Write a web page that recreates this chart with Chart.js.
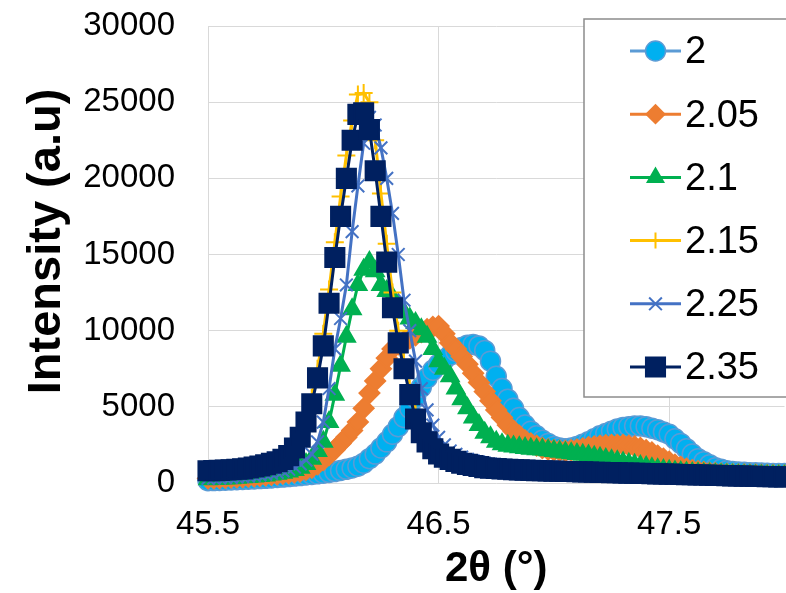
<!DOCTYPE html>
<html>
<head>
<meta charset="utf-8">
<script src="https://cdn.jsdelivr.net/npm/chart.js@4.4.0/dist/chart.umd.min.js"></script>
<style>
html, body { margin: 0; padding: 0; overflow: hidden; background: #fff; }
#wrap { width: 786px; height: 593px; overflow: hidden; }
canvas { display: block; }
</style>
</head>
<body>
<div id="wrap"><canvas id="xrdChart" width="800" height="600"></canvas></div>
<script>
// 2theta (deg) positions of the scan
const twoTheta = [
    45.500, 45.525, 45.550, 45.575, 45.600, 45.625, 45.650, 45.675, 45.700, 45.725,
    45.750, 45.775, 45.800, 45.825, 45.850, 45.875, 45.900, 45.925, 45.950, 45.975,
    46.000, 46.025, 46.050, 46.075, 46.100, 46.125, 46.150, 46.175, 46.200, 46.225,
    46.250, 46.275, 46.300, 46.325, 46.350, 46.375, 46.400, 46.425, 46.450, 46.475,
    46.500, 46.525, 46.550, 46.575, 46.600, 46.625, 46.650, 46.675, 46.700, 46.725,
    46.750, 46.775, 46.800, 46.825, 46.850, 46.875, 46.900, 46.925, 46.950, 46.975,
    47.000, 47.025, 47.050, 47.075, 47.100, 47.125, 47.150, 47.175, 47.200, 47.225,
    47.250, 47.275, 47.300, 47.325, 47.350, 47.375, 47.400, 47.425, 47.450, 47.475,
    47.500, 47.525, 47.550, 47.575, 47.600, 47.625, 47.650, 47.675, 47.700, 47.725,
    47.750, 47.775, 47.800, 47.825, 47.850, 47.875, 47.900, 47.925, 47.950, 47.975,
    48.000];

const seriesNames = ["2", "2.05", "2.1", "2.15", "2.25", "2.35"];

// intensities (a.u)
const int2 = [
    150, 160, 170, 185, 200, 215, 230, 250, 270, 290,
    310, 335, 360, 390, 420, 455, 490, 525, 560, 600,
    640, 690, 750, 820, 900, 990, 1100, 1300, 1600, 1900,
    2300, 2700, 3200, 3700, 4300, 4900, 5600, 6300, 6900, 7400,
    7800, 8100, 8400, 8650, 8900, 9050, 9100, 9000, 8700, 8000,
    7000, 6200, 5500, 4900, 4300, 3800, 3400, 3100, 2800, 2600,
    2400, 2300, 2250, 2300, 2400, 2550, 2700, 2900, 3100, 3250,
    3400, 3550, 3650, 3700, 3750, 3750, 3700, 3600, 3500, 3350,
    3200, 2900, 2600, 2250, 1900, 1600, 1400, 1200, 1000, 900,
    800, 760, 720, 700, 680, 665, 650, 640, 630, 625,
    620];
const int205 = [
    300, 310, 320, 335, 350, 370, 390, 415, 440, 470,
    500, 535, 570, 610, 650, 700, 760, 860, 1000, 1230,
    1500, 1830, 2200, 2600, 3000, 3450, 4000, 4900, 5900, 6700,
    7500, 8200, 8800, 9100, 9300, 9500, 9700, 9900, 10100, 10250,
    10300, 9800, 9200, 8800, 8300, 7800, 7200, 6600, 6000, 5400,
    4800, 4300, 3800, 3400, 3100, 2800, 2600, 2450, 2300, 2200,
    2150, 2120, 2100, 2150, 2200, 2270, 2350, 2400, 2450, 2480,
    2500, 2500, 2500, 2450, 2400, 2300, 2150, 2000, 1800, 1600,
    1400, 1200, 1050, 940, 850, 780, 720, 680, 650, 620,
    600, 585, 570, 560, 550, 540, 530, 520, 510, 505,
    500];
const int21 = [
    250, 265, 280, 300, 320, 345, 370, 400, 430, 465,
    500, 550, 600, 670, 750, 860, 1000, 1250, 1600, 2100,
    2700, 4000, 5800, 7700, 9600, 11400, 13000, 14000, 14500, 13900,
    13000, 12600, 12200, 11700, 11200, 10800, 10500, 10100, 9600, 8800,
    8000, 7500, 7000, 6200, 5500, 4900, 4300, 3800, 3300, 3000,
    2700, 2550, 2450, 2400, 2350, 2300, 2250, 2220, 2200, 2150,
    2100, 2050, 2000, 1950, 1900, 1850, 1800, 1720, 1650, 1570,
    1500, 1420, 1350, 1270, 1200, 1120, 1050, 970, 900, 850,
    800, 760, 720, 690, 660, 635, 610, 590, 570, 555,
    540, 525, 510, 500, 490, 480, 470, 465, 460, 455,
    450];
const int215 = [
    780, 795, 810, 830, 850, 880, 910, 960, 1020, 1090,
    1170, 1260, 1380, 1550, 1800, 2300, 3100, 4200, 5600, 7500,
    9800, 12700, 15800, 18800, 21500, 23800, 25500, 25600, 25000, 22500,
    19000, 15700, 12500, 10000, 8000, 6200, 4600, 3600, 2900, 2400,
    2050, 1820, 1650, 1520, 1400, 1310, 1230, 1160, 1100, 1050,
    1000, 970, 950, 920, 900, 885, 870, 855, 840, 825,
    810, 795, 780, 770, 760, 750, 740, 730, 720, 710,
    700, 690, 680, 670, 660, 650, 640, 630, 620, 610,
    600, 590, 580, 570, 560, 550, 540, 530, 520, 515,
    510, 500, 490, 480, 470, 465, 460, 450, 440, 435,
    430];
const int225 = [
    300, 315, 330, 350, 370, 395, 420, 455, 490, 535,
    580, 640, 700, 790, 900, 1050, 1250, 1500, 1900, 2700,
    4000, 6200, 8800, 10800, 13000, 16500, 19500, 22300, 24000, 23500,
    22000, 20000, 17700, 15000, 12000, 10000, 8000, 6200, 4800, 3800,
    3000, 2500, 2100, 1880, 1700, 1560, 1450, 1370, 1300, 1240,
    1180, 1130, 1080, 1040, 1000, 975, 950, 925, 900, 880,
    860, 840, 820, 805, 790, 775, 760, 745, 730, 715,
    700, 690, 680, 670, 660, 650, 640, 630, 620, 610,
    600, 590, 580, 570, 560, 550, 540, 530, 520, 515,
    510, 505, 500, 495, 490, 485, 480, 475, 470, 465,
    460];
const int235 = [
    800, 815, 830, 850, 870, 900, 930, 980, 1050, 1120,
    1200, 1300, 1400, 1550, 1800, 2300, 3000, 4000, 5200, 6900,
    9000, 11800, 14800, 17500, 20000, 22500, 24200, 24300, 23200, 20500,
    17500, 14500, 11500, 9200, 7500, 5800, 4200, 3300, 2700, 2250,
    1900, 1700, 1550, 1420, 1300, 1220, 1150, 1080, 1000, 970,
    950, 920, 900, 880, 860, 845, 830, 815, 800, 790,
    780, 770, 760, 750, 740, 730, 720, 710, 700, 690,
    680, 670, 660, 650, 640, 630, 620, 610, 600, 590,
    580, 570, 560, 550, 540, 530, 520, 510, 500, 490,
    480, 470, 460, 450, 440, 435, 430, 420, 410, 405,
    400];

const xTicks = [45.5, 46.5, 47.5];

const lineColors = ["#5B9BD5", "#ED7D31", "#00B050", "#FFC000", "#4472C4", "#002060"];
const markerFill = ["#00B0F0", "#ED7D31", "#00B050", "#FFC000", "#4472C4", "#002060"];
const markerStyle = ["circle", "rectRot", "triangle", "cross", "crossRot", "rect"];
const markerSize = [10, 10, 10, 9, 9, 13.5];
const legendSize = [10, 9, 9, 8, 9, 13.5];

const allSeries = [int2, int205, int21, int215, int225, int235];

const datasets = allSeries.map((vals, i) => ({
    label: seriesNames[i],
    data: vals.map((v, k) => ({ x: twoTheta[k], y: v })),
    showLine: true,
    borderColor: lineColors[i],
    borderWidth: 3,
    pointStyle: markerStyle[i],
    pointRadius: markerSize[i],
    pointBackgroundColor: markerFill[i],
    pointBorderColor: lineColors[i],
    pointBorderWidth: i === 0 ? 1.5 : 2,
    legendRadius: legendSize[i],
    order: allSeries.length - i, // later series on top, like the original
    clip: false
}));

// legend box drawn over the plot, top right
const boxLegend = {
    id: "boxLegend",
    afterDraw(chart) {
        const ctx = chart.ctx;
        ctx.save();
        ctx.fillStyle = "#ffffff";
        ctx.fillRect(584, 19, 230, 378);
        ctx.strokeStyle = "#8c8c8c";
        ctx.lineWidth = 1.5;
        ctx.strokeRect(584, 19, 230, 378);
        chart.data.datasets.forEach((ds, i) => {
            const y = 51 + i * 63.2;
            ctx.strokeStyle = ds.borderColor;
            ctx.lineWidth = 3;
            ctx.beginPath();
            ctx.moveTo(630, y);
            ctx.lineTo(681, y);
            ctx.stroke();
            ctx.fillStyle = ds.pointBackgroundColor;
            ctx.strokeStyle = ds.pointBorderColor;
            ctx.lineWidth = ds.pointBorderWidth;
            Chart.helpers.drawPoint(ctx, {
                pointStyle: ds.pointStyle,
                radius: ds.legendRadius,
                rotation: 0,
                borderWidth: ds.pointBorderWidth
            }, 655.5, y);
            ctx.fillStyle = "#000000";
            ctx.font = "38px 'Liberation Sans', Arial, sans-serif";
            ctx.textAlign = "left";
            ctx.textBaseline = "middle";
            ctx.fillText(ds.label, 685, y + 2);
        });
        ctx.restore();
    }
};

const ctx = document.getElementById("xrdChart").getContext("2d");
const xrdChart = new Chart(ctx, {
    type: "scatter",
    data: { datasets: datasets },
    options: {
        responsive: false,
        animation: false,
        devicePixelRatio: 1,
        layout: { padding: { top: 26, right: 4.5, left: 0, bottom: 0 } },
        plugins: {
            legend: { display: false },
            tooltip: { enabled: false }
        },
        scales: {
            x: {
                type: "linear",
                min: 45.5,
                max: 48,
                afterBuildTicks: (s) => { s.ticks = xTicks.map(v => ({ value: v })); },
                afterFit: (s) => { s.height = 117; s.paddingLeft = 0; s.paddingRight = 0; },
                ticks: {
                    color: "#000",
                    font: { family: "'Liberation Sans', Arial, sans-serif", size: 33 },
                    padding: 22,
                    maxRotation: 0,
                    autoSkip: false,
                    callback: (v) => String(v)
                },
                grid: { color: "#D9D9D9", lineWidth: 1, drawTicks: false },
                border: { display: false },
                title: {
                    display: true,
                    text: "2θ (°)",
                    color: "#000",
                    font: { family: "'Liberation Sans', Arial, sans-serif", size: 42, weight: "bold" },
                    padding: { top: 0, bottom: 5 }
                }
            },
            y: {
                min: 0,
                max: 30000,
                afterFit: (s) => { s.width = 208; s.paddingTop = 0; s.paddingBottom = 0; },
                ticks: {
                    stepSize: 5000,
                    color: "#000",
                    font: { family: "'Liberation Sans', Arial, sans-serif", size: 33 },
                    padding: 33,
                    callback: (v) => String(v)
                },
                grid: { color: "#D9D9D9", lineWidth: 1, drawTicks: false },
                border: { color: "#D9D9D9" },
                title: {
                    display: true,
                    text: "  Intensity (a.u)",
                    color: "#000",
                    font: { family: "'Liberation Sans', Arial, sans-serif", size: 47, weight: "bold" },
                    padding: { top: 19, bottom: 0 }
                }
            }
        }
    },
    plugins: [boxLegend]
});
</script>
</body>
</html>
